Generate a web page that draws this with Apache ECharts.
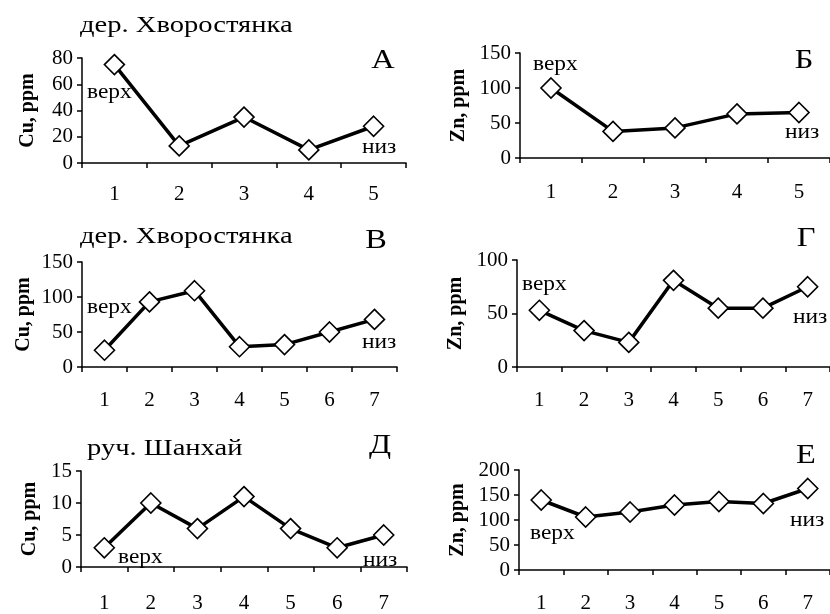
<!DOCTYPE html>
<html><head><meta charset="utf-8">
<script src="https://cdn.jsdelivr.net/npm/echarts@6/dist/echarts.min.js"></script>
<style>html,body{margin:0;padding:0;background:#fff}#c{width:830px;height:614px}</style>
</head><body><div id="c"></div>
<script>
// ---- data ----
const cats5 = ['1', '2', '3', '4', '5'];
const cats7 = ['1', '2', '3', '4', '5', '6', '7'];
const cuA = [75, 13, 35, 10, 28];
const znB = [100, 38, 43, 63, 65];
const cuV = [24, 93, 109, 29, 32, 50, 68];
const znG = [53, 34, 23, 81, 55, 55, 75];
const cuD = [3, 10, 6, 11, 6, 3, 5];
const znE = [140, 106, 116, 130, 137, 133, 163];
const yNames = ['Cu, ppm', 'Zn, ppm', 'Cu, ppm', 'Zn, ppm', 'Cu, ppm', 'Zn, ppm'];
const titles = ['дер. Хворостянка', 'дер. Хворостянка', 'руч. Шанхай'];
const letters = ['А', 'Б', 'В', 'Г', 'Д', 'Е'];

const panels = [
  {cats: cats5, vals: cuA, max: 80, step: 20},
  {cats: cats5, vals: znB, max: 150, step: 50},
  {cats: cats7, vals: cuV, max: 150, step: 50},
  {cats: cats7, vals: znG, max: 100, step: 50},
  {cats: cats7, vals: cuD, max: 15, step: 5},
  {cats: cats7, vals: znE, max: 200, step: 50}
];
// ---- layout ----
const grids = [
  {left: 82, top: 58, width: 324, height: 105},
  {left: 520, top: 53, width: 315, height: 105},
  {left: 82, top: 262, width: 315, height: 105},
  {left: 517, top: 260, width: 313, height: 107},
  {left: 81, top: 471, width: 326, height: 107},
  {left: 519, top: 470, width: 312, height: 105}
];
const xMargins = [21, 24, 23, 23, 26, 23];
const nameGaps = [44, 51, 48, 51, 41, 51];

const serif = '"Liberation Serif", "Times New Roman", serif';
const option = {
  animation: false,
  backgroundColor: '#fff',
  grid: grids.map(g => Object.assign({containLabel: false}, g)),
  xAxis: panels.map((p, i) => ({
    type: 'category', gridIndex: i, data: p.cats, boundaryGap: true,
    axisLine: {lineStyle: {color: '#000', width: 1.5}},
    axisTick: {show: true, length: 5, alignWithLabel: false, lineStyle: {color: '#000', width: 1.5}},
    axisLabel: {color: '#000', fontFamily: serif, fontSize: 21, margin: xMargins[i]},
    splitLine: {show: false}
  })),
  yAxis: panels.map((p, i) => ({
    type: 'value', gridIndex: i, min: 0, max: p.max, interval: p.step,
    name: yNames[i], nameLocation: 'middle', nameGap: nameGaps[i],
    nameTextStyle: {color: '#000', fontFamily: serif, fontSize: 20, fontWeight: 'bold'},
    axisLine: {show: true, lineStyle: {color: '#000', width: 1.5}},
    axisTick: {show: true, length: 5, lineStyle: {color: '#000', width: 1.5}},
    axisLabel: {color: '#000', fontFamily: serif, fontSize: 21, margin: 9},
    splitLine: {show: false}
  })),
  series: panels.map((p, i) => ({
    type: 'line', xAxisIndex: i, yAxisIndex: i, data: p.vals,
    symbol: 'diamond', symbolSize: [20, 20], showAllSymbol: true,
    lineStyle: {color: '#000', width: 3.5},
    itemStyle: {color: '#fff', borderColor: '#000', borderWidth: 1.6},
    emphasis: {disabled: true}, silent: true, z: 3
  })),
  graphic: []
};

function txt(text, x, y, size, sx, align) {
  return {type: 'text', x: x, y: y, scaleX: sx, silent: true, z: 10,
    style: {text: text, font: size + 'px ' + serif, fill: '#000',
      textAlign: align || 'left', textVerticalAlign: 'middle'}};
}
const G = option.graphic;
// titles
G.push(txt(titles[0], 80, 26, 24, 1.19));
G.push(txt(titles[1], 80, 237, 24, 1.19));
G.push(txt(titles[2], 87, 449, 24, 1.19));
// panel letters
const letterPos = [[383, 61], [804, 61], [376, 241], [806, 239], [380, 446], [806, 456]];
letters.forEach((l, i) => G.push(txt(l, letterPos[i][0], letterPos[i][1], 27, 1.2, 'center')));
// верх / низ annotations
const topPos = [[87, 93], [533, 65], [87, 308], [522, 285], [118, 558], [530, 534]];
const botPos = [[362, 148], [785, 133], [362, 343], [793, 318], [363, 561], [790, 521]];
topPos.forEach(p => G.push(txt('верх', p[0], p[1], 20, 1.17)));
botPos.forEach(p => G.push(txt('низ', p[0], p[1], 20, 1.17)));

const chart = echarts.init(document.getElementById('c'), null, {renderer: 'canvas'});
chart.setOption(option);
</script></body></html>
